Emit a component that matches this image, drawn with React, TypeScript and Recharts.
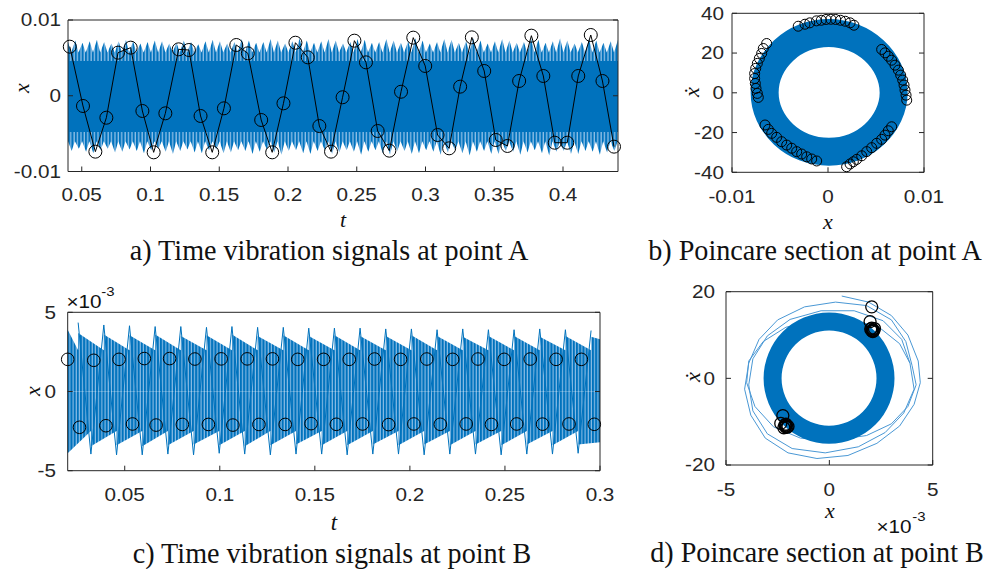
import React from "react";
import { ComposedChart, Line, Area, XAxis, YAxis } from "recharts";

const BLUE = "#0072BD";
const STRIPE_LIGHT = "#8fbfe6";
const LOOP_BLUE = "#4a98d5";
const INK = "#262626";
const SANS = "'Liberation Sans', Arial, Helvetica, sans-serif";
const SERIF = "'Liberation Serif', 'Times New Roman', serif";

// values of x are kept in units of 1e-3
const m = (v: number) => v / 1000;

// ---------- a) time signal at point A ----------
const aT0 = 0.04;
const aTEnd = 0.44;
const aToothHi = [
  7.1, 7.3, 7.0, 7.2, 7.4, 7.1, 6.9, 7.2, 7.4, 7.2,
  6.9, 7.1, 7.3, 7.2, 6.9, 7.0, 7.3, 7.1, 6.8, 7.2,
  7.4, 7.2, 6.9, 7.1, 7.5, 7.3, 7.0, 7.1, 7.5, 7.3,
  6.9, 7.2, 7.6, 7.3, 7.0, 7.2, 7.5, 7.3, 6.9, 7.1,
  7.5, 7.4, 7.0, 7.1, 7.5, 7.3, 7.0, 7.2, 7.6, 7.3,
  6.9, 7.1, 7.5, 7.4, 7.0, 7.2, 7.6, 7.3, 6.9, 7.2,
  7.5, 7.3, 7.0, 7.1, 7.5, 7.4, 7.0, 7.2, 7.6, 7.3,
  6.9, 7.1, 7.5, 7.3, 7.0, 7.2, 7.4,
];
const aToothLo = [
  -7.3, -7.0, -7.4, -7.6, -7.2, -7.0, -7.5, -7.4, -7.1, -7.3,
  -7.6, -7.2, -7.0, -7.4, -7.7, -7.3, -7.1, -7.5, -7.6, -7.2,
  -7.1, -7.6, -7.5, -7.2, -7.3, -7.7, -7.4, -7.1, -7.5, -7.8,
  -7.3, -7.2, -7.6, -7.7, -7.3, -7.2, -7.7, -7.5, -7.2, -7.4,
  -7.8, -7.4, -7.2, -7.6, -7.8, -7.3, -7.3, -7.7, -7.6, -7.2,
  -7.4, -7.8, -7.5, -7.2, -7.6, -7.9, -7.4, -7.3, -7.7, -7.7,
  -7.3, -7.4, -7.8, -7.5, -7.2, -7.6, -7.9, -7.4, -7.3, -7.7,
  -7.7, -7.3, -7.4, -7.8, -7.5, -7.3,
];
const aValleyHi = 5.7;
const aValleyLo = -6.0;
const aCore = [-4.8, 4.6];
const aPoinT = [
  0.0413, 0.0509, 0.0599, 0.0679, 0.0764, 0.0856, 0.0941, 0.1023, 0.1108, 0.1205,
  0.1279, 0.1364, 0.1449, 0.1534, 0.1624, 0.1708, 0.1805, 0.1885, 0.1967, 0.2054,
  0.2144, 0.2228, 0.2313, 0.2397, 0.2483, 0.2567, 0.2652, 0.2737, 0.2822, 0.2911,
  0.2998, 0.3088, 0.3172, 0.3252, 0.3337, 0.3427, 0.3511, 0.3596, 0.3681, 0.377,
  0.3857, 0.394, 0.4031, 0.4111, 0.4202, 0.4287, 0.4371,
];
const aPoinX = [
  6.48, -1.35, -7.38, -2.9, 5.69, 6.35, -2.01, -7.47, -2.32, 6.13,
  6.04, -2.67, -7.47, -1.66, 6.7, 5.6, -3.2, -7.47, -1.0, 7.0,
  5.07, -4.0, -7.38, -0.2, 7.27, 4.41, -4.65, -7.25, 0.53, 7.67,
  3.93, -5.18, -6.94, 1.2, 7.71, 3.27, -5.84, -6.63, 1.95, 7.93,
  2.61, -6.2, -6.2, 2.61, 8.02, 1.95, -6.72,
];
const aTicksT = [0.05, 0.1, 0.15, 0.2, 0.25, 0.3, 0.35, 0.4];
const aTicksX = [-0.01, 0, 0.01];

// ---------- b) Poincare section at point A ----------
const bRing: [number, number][] = [
  [7.03, 0], [6.46, 11.8], [4.92, 21.85], [2.67, 28.5], [0.1, 30.9], [-2.57, 28.5],
  [-4.72, 21.85], [-6.26, 11.8], [-6.77, 0.2], [-6.26, -11.5], [-4.72, -21.55], [-2.57, -28.1],
  [0.1, -30.4], [2.77, -28.1], [4.92, -21.55], [6.46, -11.5],
];
const bPoinX = [
  -3.1, -2.4, -1.9, -1.2, -0.7, -0.2, 0.3, 0.8, 1.3, 1.8, 2.3, 2.7,
  5.59, 5.94, 6.28, 6.63, 6.98, 7.33, 7.57, 7.78, 7.92, 8.02, 8.13, 8.2,
  6.63, 6.28, 5.94, 5.59, 5.07, 4.55, 4.03, 3.51, 2.99, 2.64, 2.3, 1.94,
  -6.56, -6.22, -5.87, -5.35, -4.83, -4.3, -3.78, -3.26, -2.74, -2.22, -1.7, -1.18,
  -6.39, -6.74, -6.91, -7.15, -7.36, -7.53, -7.64, -7.64, -7.57, -7.5, -7.36, -7.26,
];
const bPoinY = [
  33.5, 34.5, 35.2, 36.2, 36.5, 36.9, 37, 36.9, 36.5, 36, 35.2, 34,
  21.8, 20.1, 18.4, 16.4, 13.9, 11.4, 8.9, 6.4, 3.9, 1.4, -1.2, -3.7,
  -17.1, -19.1, -21.3, -23.4, -25.4, -27.6, -29.6, -31.7, -33.5, -34.7, -35.8, -37.2,
  -16.2, -18.4, -20.4, -22.4, -24.6, -26.3, -27.9, -29.6, -30.8, -32.2, -33.3, -34.3,
  24.8, 22.3, 19.8, 17.3, 14.8, 12.3, 9.7, 7.2, 4.7, 2.2, -0.3, -2.3,
];
const bTicksX = [-0.01, 0, 0.01];
const bTicksY = [-40, -20, 0, 20, 40];

// ---------- c) time signal at point B ----------
const cStartHi = 3.9;
const cStartLo = -3.9;
const cEndHi = 3.3;
const cEndLo = -3.2;
const cValleyHi = 2.6;
const cValleyLo = -2.5;
const cSpkUpT = [
  0.0255, 0.039, 0.0525, 0.066, 0.0795, 0.093, 0.1064, 0.1199, 0.1334, 0.1468, 0.1603,
  0.1738, 0.1873, 0.2008, 0.2143, 0.2278, 0.2413, 0.2548, 0.2683, 0.2818, 0.2953,
];
const cSpkUp = [
  4.35, 4.2, 4.15, 4.1, 4.1, 4.05, 4.1, 4.05, 4.05, 4.0, 4.0,
  4.0, 3.95, 3.95, 3.9, 3.95, 3.9, 3.9, 3.95, 3.9, 3.85,
];
const cEnvHi = [
  3.7, 3.6, 3.55, 3.6, 3.5, 3.55, 3.6, 3.5, 3.55, 3.5, 3.55,
  3.5, 3.5, 3.55, 3.5, 3.45, 3.5, 3.5, 3.45, 3.5, 3.45,
];
const cSpkLoT = [
  0.0322, 0.0457, 0.0592, 0.0727, 0.0862, 0.0997, 0.1131, 0.1266, 0.1401, 0.1536,
  0.167, 0.1805, 0.194, 0.2075, 0.221, 0.2345, 0.248, 0.2615, 0.275, 0.2885,
];
const cSpkLo = [
  -3.95, -4.0, -4.0, -3.95, -4.0, -3.9, -3.95, -4.0, -3.95, -3.95,
  -4.0, -3.95, -3.95, -4.0, -3.95, -3.95, -4.0, -3.95, -3.95, -3.9,
];
const cEnvLo = [
  -3.45, -3.4, -3.45, -3.4, -3.35, -3.4, -3.45, -3.4, -3.35, -3.4,
  -3.4, -3.35, -3.4, -3.35, -3.4, -3.35, -3.4, -3.35, -3.4, -3.35,
];
const cUpT = [
  0.02, 0.0337, 0.047, 0.0603, 0.0736, 0.0869, 0.1007, 0.1144, 0.1277, 0.141, 0.1546,
  0.1681, 0.1814, 0.1951, 0.2089, 0.2225, 0.2358, 0.2496, 0.2633, 0.2769, 0.2902,
];
const cUpX = [
  2.03, 1.97, 2.03, 2.08, 2.08, 2.05, 2.06, 2.06, 2.06, 2.03, 2.03,
  2.03, 2.05, 2.03, 2.05, 2.03, 2.05, 2.03, 2.05, 2.03, 2.03,
];
const cLoT = [
  0.0262, 0.0401, 0.0541, 0.0665, 0.0803, 0.094, 0.1069, 0.1206, 0.1344, 0.148, 0.1613,
  0.1751, 0.1888, 0.2021, 0.216, 0.2296, 0.2429, 0.2562, 0.2698, 0.2837, 0.297,
];
const cLoX = [
  -2.26, -2.16, -2.05, -2.12, -2.08, -2.08, -2.12, -2.08, -2.08, -2.03, -2.07,
  -2.05, -2.09, -2.05, -2.07, -2.05, -2.08, -2.05, -2.06, -2.05, -2.07,
];
const cTicksT = [0.05, 0.1, 0.15, 0.2, 0.25, 0.3];
const cTicksX = [-0.005, 0, 0.005];

// ---------- d) Poincare section at point B ----------
const dRing: [number, number][] = [
  [2.79, 0], [2.57, 5.13], [1.98, 9.54], [1.07, 12.4], [-0.02, 13.5], [-1.09, 12.4],
  [-2.0, 9.54], [-2.6, 5.13], [-2.82, 0], [-2.6, -5.13], [-2.0, -9.44], [-1.09, -12.3],
  [-0.02, -13.35], [1.07, -12.3], [1.98, -9.44], [2.57, -5.13],
];
const dLoopOuter: [number, number][] = [
  [0.6, 19.0], [1.9, 17.6], [3.0, 14.5], [3.8, 10], [4.3, 4], [4.4, -1], [4.1, -6],
  [3.4, -11], [2.3, -15], [0.9, -17.8], [-0.6, -18.5], [-2.0, -17.2], [-3.1, -13.8],
  [-3.8, -8.5], [-4.1, -2.5], [-3.9, 3.5], [-3.4, 9], [-2.5, 13.5], [-1.2, 16.5],
  [0.3, 17.6], [1.8, 16.8], [3.0, 13.5], [3.7, 8.5], [4.0, 3],
];
const dLoopEar: [number, number][] = [
  [4.0, 3], [4.2, -1.5], [3.8, -6.5], [3.0, -10.5], [1.8, -13.2], [0.2, -14.3],
  [-1.4, -13.8], [-2.7, -11.2], [-3.6, -6.5], [-4.0, -1], [-3.9, 4], [-3.2, 8.5],
  [-2.1, 11.8], [-0.6, 13.6], [1.0, 13.6], [2.4, 11.8], [3.4, 8], [3.9, 3.5],
];
const dLoopMid: [number, number][] = [
  [3.9, 3.5], [4.1, -2.5], [3.6, -8], [2.7, -12.5], [1.4, -15.8], [-0.2, -17.2],
  [-1.8, -16.2], [-3.0, -12.8], [-3.7, -7.5], [-3.9, -1.5], [-3.7, 4.5], [-3.0, 9.8],
  [-1.9, 13.6], [-0.4, 15.6], [1.2, 15.6], [2.6, 13.3], [3.5, 9], [3.9, 3.5],
];
const dPoinX = [
  2.05, 1.97, 2.1, 2.05, 2.15, 2.0, 2.1, 2.18, 2.05,
  -2.25, -2.35, -2.1, -2.05, -2.15, -2.0, -2.2, -2.1, -2.12,
];
const dPoinY = [
  16.5, 13.1, 11.2, 11.6, 11.0, 11.4, 10.8, 11.5, 11.0,
  -8.6, -10.4, -11.0, -11.3, -10.8, -11.1, -11.4, -10.6, -11.2,
];
const dTicksX = [-0.005, 0, 0.005];
const dTicksY = [-20, 0, 20];

// ---------- rows built for recharts ----------
const aStep = (aTEnd - aT0) / (aToothHi.length - 1);
const aUpper = aToothHi.flatMap((v, i) => {
  const h = aT0 + i * aStep;
  return i < aToothLo.length
    ? [{ h, v: m(v) }, { h: h + 0.45 * aStep, v: m(aValleyHi) }]
    : [{ h, v: m(v) }];
});
const aLower = [
  { h: aT0, v: m(aValleyLo) },
  ...aToothLo.flatMap((v, i) => {
    const h = aT0 + (i + 0.5) * aStep;
    return [{ h, v: m(v) }, { h: h + 0.45 * aStep, v: m(aValleyLo) }];
  }),
];
const aCoreRows = [
  { h: aT0, v: [m(aCore[0]), m(aCore[1])] },
  { h: aTEnd, v: [m(aCore[0]), m(aCore[1])] },
];
const aPoin = aPoinT.map((h, i) => ({ h, v: m(aPoinX[i]) }));

const bRingRows = bRing.map(([x, y]) => ({ h: m(x), v: y }));
const bPoin = bPoinX.map((x, i) => ({ h: m(x), v: bPoinY[i] }));

const cUpper = [
  { h: 0.02, v: m(cStartHi) },
  ...cSpkUpT.flatMap((h, i) => [{ h, v: m(cValleyHi) }, { h, v: m(cEnvHi[i]) }]),
  { h: 0.3, v: m(cEndHi) },
];
const cLower = [
  { h: 0.02, v: m(cStartLo) },
  ...cSpkLoT.flatMap((h, i) => [{ h, v: m(cValleyLo) }, { h, v: m(cEnvLo[i]) }]),
  { h: 0.3, v: m(cEndLo) },
];
const cSpikes = cSpkUpT.flatMap((h, i) =>
  i < cSpkLoT.length
    ? [{ h, v: m(cSpkUp[i]) }, { h: cSpkLoT[i], v: m(cSpkLo[i]) }]
    : [{ h, v: m(cSpkUp[i]) }]
);
const cPoinUp = cUpT.map((h, i) => ({ h, v: m(cUpX[i]) }));
const cPoinLo = cLoT.map((h, i) => ({ h, v: m(cLoX[i]) }));

const toRows = (pts: [number, number][]) => pts.map(([x, y]) => ({ h: m(x), v: y }));
const dPoin = dPoinX.map((x, i) => ({ h: m(x), v: dPoinY[i] }));

const fmtMilli = (v: number) => String(Math.round(v * 1000));

function AxisTick(props: any) {
  const { x, y, payload, textAnchor, fmt } = props;
  const text = fmt ? fmt(payload.value) : String(payload.value);
  const left = textAnchor === "end";
  return (
    <g transform={`translate(${x},${y}) scale(1.15,1)`}>
      <text
        x={0}
        y={0}
        dy={left ? "0.35em" : "0.71em"}
        textAnchor={left ? "end" : "middle"}
        fontSize={18}
        fontFamily={SANS}
        fill={INK}
      >
        {text}
      </text>
    </g>
  );
}

function frameAxes(o: {
  xDomain: [number, number];
  yDomain: [number, number];
  xTicks: number[];
  yTicks: number[];
  xGap: number;
  yGap: number;
  xFmt?: (v: number) => string;
  yFmt?: (v: number) => string;
}) {
  const line = { stroke: INK, strokeWidth: 1 };
  return [
    <XAxis
      key="xb"
      xAxisId={0}
      type="number"
      dataKey="h"
      domain={o.xDomain}
      ticks={o.xTicks}
      interval={0}
      height={1}
      tickSize={-5}
      tickMargin={o.xGap}
      tick={<AxisTick fmt={o.xFmt} />}
      axisLine={line}
      tickLine={line}
    />,
    <XAxis
      key="xt"
      xAxisId="top"
      orientation="top"
      type="number"
      domain={o.xDomain}
      ticks={o.xTicks}
      interval={0}
      height={1}
      tickSize={-5}
      allowDataOverflow
      tickFormatter={() => ""}
      axisLine={line}
      tickLine={line}
    />,
    <YAxis
      key="yl"
      yAxisId={0}
      type="number"
      domain={o.yDomain}
      ticks={o.yTicks}
      interval={0}
      width={1}
      tickSize={-5}
      tickMargin={o.yGap}
      tick={<AxisTick fmt={o.yFmt} />}
      axisLine={line}
      tickLine={line}
    />,
    <YAxis
      key="yr"
      yAxisId="right"
      orientation="right"
      type="number"
      domain={o.yDomain}
      ticks={o.yTicks}
      interval={0}
      width={1}
      tickSize={-5}
      allowDataOverflow
      tickFormatter={() => ""}
      axisLine={line}
      tickLine={line}
    />,
  ];
}

function Stripes({ id, period, light }: { id: string; period: number; light: number }) {
  return (
    <defs>
      <pattern id={id} width={period} height={20} patternUnits="userSpaceOnUse">
        <rect x={0} y={0} width={period} height={20} fill={BLUE} />
        <rect x={period - light} y={0} width={light} height={20} fill={STRIPE_LIGHT} />
      </pattern>
    </defs>
  );
}

function Txt(props: {
  x: number;
  y: number;
  size: number;
  children: React.ReactNode;
  italic?: boolean;
  rotate?: number;
  sx?: number;
  family?: string;
}) {
  const { x, y, size, italic, rotate = 0, sx = 1, family = SERIF } = props;
  return (
    <div
      style={{
        position: "absolute",
        left: x,
        top: y,
        transform: `translate(-50%, -50%) rotate(${rotate}deg) scaleX(${sx})`,
        fontSize: size,
        fontFamily: family,
        fontStyle: italic ? "italic" : "normal",
        lineHeight: 0.8,
        whiteSpace: "nowrap",
        color: "#111",
      }}
    >
      {props.children}
    </div>
  );
}

const ringDot = (r: number, w = 1) => ({ r, fill: "none", stroke: "#000", strokeWidth: w });

export default function App() {
  return (
    <div style={{ position: "absolute", left: 0, top: 0, width: 1000, height: 569, background: "#fff" }}>
      {/* a) */}
      <div style={{ position: "absolute", left: 0, top: 0 }}>
        <ComposedChart width={640} height={215} margin={{ top: 19, right: 21, bottom: 42.5, left: 67 }}>
          <Stripes id="stripeA" period={3.4} light={1.3} />
          {frameAxes({
            xDomain: [0.04, 0.44],
            yDomain: [-0.01, 0.01],
            xTicks: aTicksT,
            yTicks: aTicksX,
            xGap: 21.5,
            yGap: 12,
          })}
          <Area data={aUpper} dataKey="v" type="linear" baseValue={0} stroke="none" fill="url(#stripeA)" fillOpacity={1} isAnimationActive={false} />
          <Area data={aLower} dataKey="v" type="linear" baseValue={0} stroke="none" fill="url(#stripeA)" fillOpacity={1} isAnimationActive={false} />
          <Area data={aCoreRows} dataKey="v" type="linear" stroke="none" fill={BLUE} fillOpacity={1} isAnimationActive={false} />
          <Line data={aPoin} dataKey="v" type="linear" stroke="#000" strokeWidth={1} dot={ringDot(6.5)} activeDot={false} isAnimationActive={false} />
        </ComposedChart>
      </div>

      {/* b) */}
      <div style={{ position: "absolute", left: 660, top: 0 }}>
        <ComposedChart width={290} height={215} margin={{ top: 12.3, right: 25, bottom: 41.7, left: 71 }}>
          {frameAxes({
            xDomain: [-0.01, 0.01],
            yDomain: [-40, 40],
            xTicks: bTicksX,
            yTicks: bTicksY,
            xGap: 22.7,
            yGap: 13,
          })}
          <Line data={bRingRows} dataKey="v" type="basisClosed" stroke={BLUE} strokeWidth={28} dot={false} activeDot={false} isAnimationActive={false} />
          <Line data={bPoin} dataKey="v" type="linear" stroke="none" dot={ringDot(5)} activeDot={false} isAnimationActive={false} />
        </ComposedChart>
      </div>

      {/* c) */}
      <div style={{ position: "absolute", left: 0, top: 290 }}>
        <ComposedChart width={640} height={215} margin={{ top: 21.3, right: 39, bottom: 33.3, left: 66.7 }}>
          <Stripes id="stripeC" period={3.2} light={1.1} />
          {frameAxes({
            xDomain: [0.02, 0.3],
            yDomain: [-0.005, 0.005],
            xTicks: cTicksT,
            yTicks: cTicksX,
            xGap: 22.6,
            yGap: 16.7,
            yFmt: fmtMilli,
          })}
          <Area data={cUpper} dataKey="v" type="linear" baseValue={0} stroke="none" fill="url(#stripeC)" fillOpacity={1} isAnimationActive={false} />
          <Area data={cLower} dataKey="v" type="linear" baseValue={0} stroke="none" fill="url(#stripeC)" fillOpacity={1} isAnimationActive={false} />
          <Line data={cSpikes} dataKey="v" type="linear" stroke={BLUE} strokeWidth={1} dot={false} activeDot={false} isAnimationActive={false} />
          <Line data={cPoinUp} dataKey="v" type="linear" stroke="none" dot={ringDot(6.3)} activeDot={false} isAnimationActive={false} />
          <Line data={cPoinLo} dataKey="v" type="linear" stroke="none" dot={ringDot(6.3)} activeDot={false} isAnimationActive={false} />
        </ComposedChart>
      </div>

      {/* d) */}
      <div style={{ position: "absolute", left: 660, top: 270 }}>
        <ComposedChart width={290} height={240} margin={{ top: 20.7, right: 16.3, bottom: 44, left: 65 }}>
          {frameAxes({
            xDomain: [-0.005, 0.005],
            yDomain: [-20, 20],
            xTicks: dTicksX,
            yTicks: dTicksY,
            xGap: 23.3,
            yGap: 16,
            xFmt: fmtMilli,
          })}
          <Line data={toRows(dLoopOuter)} dataKey="v" type="linear" stroke={LOOP_BLUE} strokeWidth={1} dot={false} activeDot={false} isAnimationActive={false} />
          <Line data={toRows(dLoopEar)} dataKey="v" type="linear" stroke={LOOP_BLUE} strokeWidth={1} dot={false} activeDot={false} isAnimationActive={false} />
          <Line data={toRows(dLoopMid)} dataKey="v" type="linear" stroke={LOOP_BLUE} strokeWidth={1} dot={false} activeDot={false} isAnimationActive={false} />
          <Line data={toRows(dRing)} dataKey="v" type="basisClosed" stroke={BLUE} strokeWidth={18} dot={false} activeDot={false} isAnimationActive={false} />
          <Line data={dPoin} dataKey="v" type="linear" stroke="none" dot={ringDot(6, 1.3)} activeDot={false} isAnimationActive={false} />
        </ComposedChart>
      </div>

      {/* axis titles */}
      <Txt x={22} y={88} size={22} italic rotate={-90}>x</Txt>
      <Txt x={343} y={220} size={22} italic>t</Txt>
      <Txt x={692} y={92} size={22} italic rotate={-90}>ẋ</Txt>
      <Txt x={828} y={222} size={22} italic>x</Txt>
      <Txt x={33} y={391} size={22} italic rotate={-90}>x</Txt>
      <Txt x={334} y={523} size={23} italic>t</Txt>
      <Txt x={693} y={377} size={22} italic rotate={-90}>ẋ</Txt>
      <Txt x={830} y={511} size={22} italic>x</Txt>

      {/* exponent markers */}
      <Txt x={84} y={302} size={18} sx={1.15} family={SANS}>×10</Txt>
      <Txt x={108} y={292} size={13} sx={1.15} family={SANS}>-3</Txt>
      <Txt x={894} y={527} size={18} sx={1.15} family={SANS}>×10</Txt>
      <Txt x={919} y={517} size={13} sx={1.15} family={SANS}>-3</Txt>

      {/* captions */}
      <Txt x={328.5} y={250.5} size={29} sx={0.97}>a) Time vibration signals at point A</Txt>
      <Txt x={815} y={251} size={29} sx={0.97}>b) Poincare section at point A</Txt>
      <Txt x={331.7} y={553.5} size={29} sx={0.97}>c) Time vibration signals at point B</Txt>
      <Txt x={816.5} y={553} size={29} sx={0.97}>d) Poincare section at point B</Txt>
    </div>
  );
}
